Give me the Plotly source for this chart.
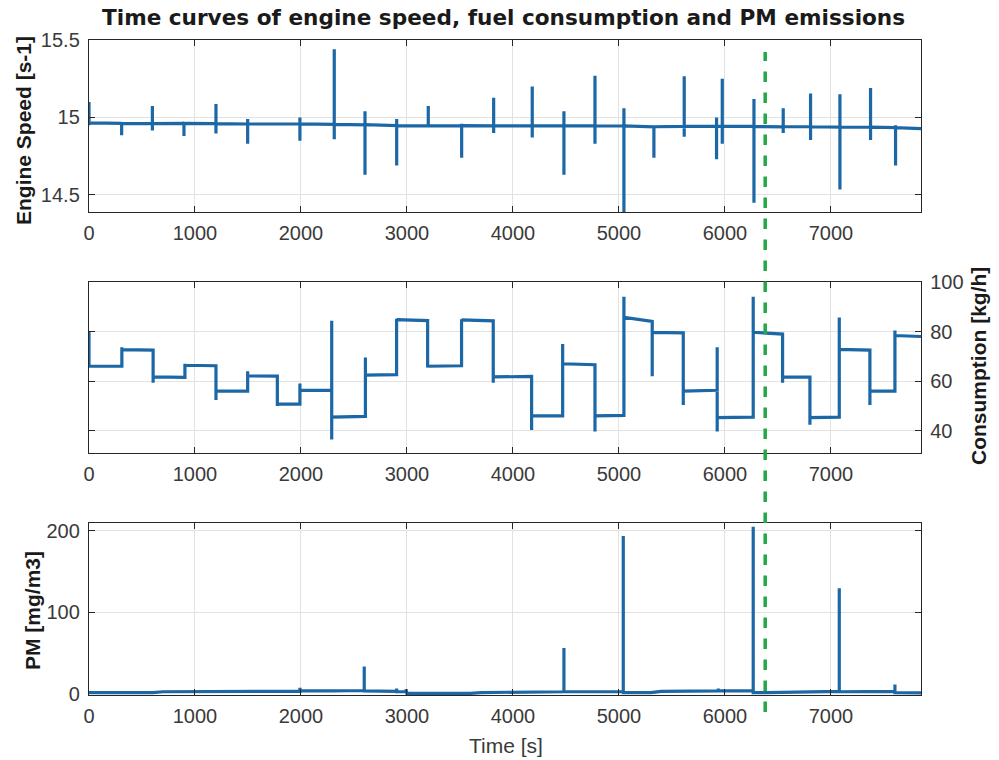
import plotly.graph_objects as go

# ---------------- data ----------------
T_MAX = 7850
x_ticks = [0, 1000, 2000, 3000, 4000, 5000, 6000, 7000]
marker_time = [6380]

# Engine speed: events (time, baseline, upper extreme, lower extreme)
speed_t    = [0, 308, 598, 896, 1198, 1497, 1990, 2314, 2604, 2903, 3201, 3516, 3818,
              4182, 4481, 4774, 5047, 5330, 5616, 5921, 5975, 6274, 6550, 6808, 7085, 7374, 7610]
speed_base = [14.965, 14.962, 14.960, 14.962, 14.960, 14.958, 14.958, 14.955, 14.953, 14.948, 14.946, 14.947, 14.946,
              14.946, 14.947, 14.946, 14.945, 14.940, 14.942, 14.943, 14.943, 14.942, 14.940, 14.940, 14.938, 14.937, 14.934]
speed_up   = [15.10, 14.97, 15.074, 14.97, 15.087, 14.99, 15.00, 15.44, 15.04, 14.99, 15.074, 14.96, 15.127,
              15.20, 15.04, 15.27, 15.06, 14.95, 15.266, 15.00, 15.25, 15.12, 15.06, 15.154, 15.15, 15.19, 14.95]
speed_dn   = [14.95, 14.886, 14.916, 14.88, 14.897, 14.83, 14.85, 14.86, 14.63, 14.69, 14.94, 14.74, 14.90,
              14.87, 14.63, 14.83, 14.33, 14.74, 14.875, 14.73, 14.83, 14.45, 14.90, 14.855, 14.536, 14.855, 14.69]
speed_end  = 14.928

# Fuel consumption: step events (time, transient extremes, level at start, level at end of segment)
cons_t     = [0, 310, 605, 905, 1198, 1497, 1777, 1990, 2290, 2608, 2902, 3195, 3515, 3814,
              4176, 4469, 4774, 5047, 5314, 5607, 5927, 6267, 6544, 6802, 7079, 7368, 7604]
cons_ext   = [[80], [73.7], [59.3], [67], [52.4], [64], [50], [59], [84.4, 36.4, 84, 37.5], [69.5],
              [85.2], [65.5], [85], [59.3], [40.3], [75], [39.7], [94], [62, 84, 62], [50.4],
              [73.7, 72, 39.7], [94], [59.3], [42.4], [85.7], [50.4], [80.4]]
cons_start = [66, 72.7, 61.7, 66.4, 56, 62.1, 50.7, 56.3, 45.5, 62.4, 84.8, 66, 84.7, 61.7,
              46, 67, 46, 85.7, 79.7, 56, 45.3, 79.7, 61.7, 45.3, 72.8, 56, 78.4]
cons_end   = [66, 72.5, 61.5, 66.2, 56, 62, 50.7, 56.3, 45.8, 62.6, 84.4, 66.2, 84.3, 61.9,
              46, 66.6, 46.2, 84.1, 79.5, 56.3, 45.5, 79, 61.6, 45.5, 72.5, 56, 78]

# PM emissions (time, value); repeated times form the spikes
pm_t = [0, 600, 700, 1990, 1990, 1990, 2300, 2597, 2597, 2597, 2903, 2903, 2903, 2991, 2991,
        3000, 3600, 3700, 4000, 4481, 4481, 4481, 5041, 5041, 5041, 5300, 5400, 5937, 5937, 5937,
        6267, 6267, 6267, 6400, 7000, 7079, 7079, 7079, 7604, 7604, 7604, 7850]
pm_v = [2, 2, 3, 3.5, 8, 4, 4, 4.5, 34, 4, 3.5, 7, 3, 3, 6,
        1, 1, 2, 2.5, 3, 56.5, 3, 3, 193.5, 2, 2, 3.5, 4, 7, 4,
        4, 204.8, 2, 2, 3, 3.5, 129.7, 3, 3.5, 11.8, 2, 1.5]

# ---------------- build line sequences ----------------
sx, sy = [], []
for t, b, u, d in zip(speed_t, speed_base, speed_up, speed_dn):
    sx += [t, t, t, t]
    sy += [b, u, d, b]
sx.append(T_MAX); sy.append(speed_end)

cx, cy = [], []
for i, t in enumerate(cons_t):
    for v in cons_ext[i]:
        cx.append(t); cy.append(v)
    cx.append(t); cy.append(cons_start[i])
    t_next = cons_t[i + 1] if i + 1 < len(cons_t) else T_MAX
    cx.append(t_next); cy.append(cons_end[i])

LINE = dict(color="#1c67a6", width=3.2)
fig = go.Figure()
fig.add_trace(go.Scatter(x=sx, y=sy, mode="lines", line=LINE, xaxis="x", yaxis="y", hoverinfo="skip"))
fig.add_trace(go.Scatter(x=cx, y=cy, mode="lines", line=LINE, xaxis="x2", yaxis="y2", hoverinfo="skip"))
fig.add_trace(go.Scatter(x=pm_t, y=pm_v, mode="lines", line=LINE, xaxis="x3", yaxis="y3", hoverinfo="skip"))

X0, X1 = 89 / 999, 921 / 999
def dom(top, bot):
    return [1 - bot / 760, 1 - top / 760]

TICKFONT = dict(family="Liberation Sans, Arial", size=20, color="#3a3a3a")
common_x = dict(range=[0, T_MAX], tickvals=x_ticks, showgrid=True, gridcolor="#e2e2e2", gridwidth=1,
                ticks="inside", ticklen=6, tickcolor="#262626", tickwidth=1.2,
                showline=True, linecolor="#262626", linewidth=1.4, mirror="ticks",
                zeroline=False, tickfont=TICKFONT, domain=[X0, X1], ticklabelstandoff=3,
                automargin=False)
common_y = dict(showgrid=True, gridcolor="#e2e2e2", gridwidth=1,
                ticks="inside", ticklen=6, tickcolor="#262626", tickwidth=1.2,
                showline=True, linecolor="#262626", linewidth=1.4, mirror="ticks",
                zeroline=False, tickfont=TICKFONT, ticklabelstandoff=4, automargin=False)

layout = dict(
    width=999, height=760, margin=dict(l=0, r=0, t=0, b=0),
    paper_bgcolor="white", plot_bgcolor="white", showlegend=False,
    font=dict(family="Liberation Sans, Arial", color="#262626"),
    xaxis=dict(common_x, anchor="y"),
    xaxis2=dict(common_x, anchor="y2"),
    xaxis3=dict(common_x, anchor="y3"),
    yaxis=dict(common_y, domain=dom(40, 212), range=[14.39, 15.5], tickvals=[14.5, 15, 15.5],
               ticktext=["14.5", "15", "15.5"], anchor="x"),
    yaxis2=dict(common_y, domain=dom(282, 453), range=[31, 100], tickvals=[40, 60, 80, 100],
                side="right", anchor="x2"),
    yaxis3=dict(common_y, domain=dom(522.5, 695), range=[-1, 210], tickvals=[0, 100, 200], anchor="x3"),
)
fig.update_layout(**layout)

BOLD = dict(family="Liberation Sans, Arial", size=21, color="#1a1a1a")
ann = [
    dict(text="<b>Time curves of engine speed, fuel consumption and PM emissions</b>",
         x=503 / 999, y=1 - 18 / 760, font=dict(family="DejaVu Sans", size=21.6, color="#1a1a1a")),
    dict(text="<b>Engine Speed [s-1]</b>", x=23 / 999, y=1 - 131 / 760, textangle=-90, font=BOLD),
    dict(text="<b>Consumption [kg/h]</b>", x=978 / 999, y=1 - 366 / 760, textangle=-90, font=BOLD),
    dict(text="<b>PM [mg/m3]</b>", x=32 / 999, y=1 - 611 / 760, textangle=-90, font=BOLD),
    dict(text="Time [s]", x=506 / 999, y=1 - 745 / 760,
         font=dict(family="Liberation Sans, Arial", size=21, color="#3a3a3a")),
]
for a in ann:
    fig.add_annotation(xref="paper", yref="paper", showarrow=False, xanchor="center", yanchor="middle", **a)

for t in marker_time:
    fig.add_shape(type="line", xref="x", yref="paper", x0=t, x1=t, y0=1 - 712 / 760, y1=1 - 52 / 760,
                  line=dict(color="#22a845", width=3.5, dash="dash"), layer="above")

fig.write_html("out.html")
